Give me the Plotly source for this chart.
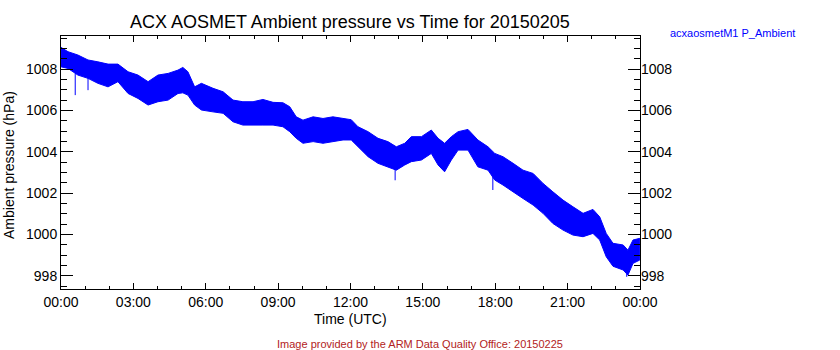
import plotly.graph_objects as go

# ---- data (hours UTC, hPa) ----
time_h = [0.00, 0.29, 0.70, 1.12, 1.53, 1.95, 2.36, 2.78, 3.19, 3.61, 4.02, 4.44, 4.85, 5.05,
          5.26, 5.54, 5.82, 6.30, 6.72, 7.13, 7.54, 7.96, 8.37, 8.79, 9.20, 9.48, 9.75, 10.03,
          10.45, 10.86, 11.27, 11.69, 12.03, 12.31, 12.73, 13.14, 13.55, 13.90, 14.25, 14.52,
          14.94, 15.35, 15.63, 15.90, 16.18, 16.46, 16.87, 17.28, 17.70, 17.98, 18.32, 18.74,
          19.15, 19.57, 19.98, 20.39, 20.81, 21.22, 21.64, 22.05, 22.33, 22.60, 22.88, 23.30,
          23.50, 23.71, 23.99]
p_upper = [1009.05, 1008.84, 1008.68, 1008.44, 1008.35, 1008.24, 1008.24, 1007.87, 1007.71,
           1007.39, 1007.71, 1007.79, 1007.95, 1008.08, 1007.87, 1007.14, 1007.31, 1007.07,
           1006.90, 1006.50, 1006.42, 1006.42, 1006.53, 1006.39, 1006.37, 1006.18, 1005.69,
           1005.53, 1005.69, 1005.61, 1005.69, 1005.61, 1005.55, 1005.21, 1004.97, 1004.65,
           1004.49, 1004.24, 1004.41, 1004.73, 1004.73, 1005.05, 1004.65, 1004.41, 1004.73,
           1004.97, 1005.08, 1004.57, 1004.24, 1003.92, 1003.76, 1003.44, 1003.11, 1002.95,
           1002.47, 1002.06, 1001.66, 1001.34, 1001.02, 1001.21, 1000.85, 1000.05, 999.57,
           999.49, 999.24, 999.73, 999.81]
p_lower = [1008.11, 1008.03, 1007.71, 1007.55, 1007.31, 1007.14, 1007.39, 1006.82, 1006.58,
           1006.26, 1006.42, 1006.50, 1006.82, 1006.85, 1006.74, 1006.26, 1006.02, 1005.93,
           1005.86, 1005.45, 1005.29, 1005.29, 1005.29, 1005.29, 1005.21, 1004.97, 1004.65,
           1004.41, 1004.49, 1004.41, 1004.49, 1004.57, 1004.57, 1004.24, 1003.76, 1003.44,
           1003.27, 1003.11, 1003.36, 1003.52, 1003.60, 1003.92, 1003.36, 1003.03, 1003.60,
           1004.08, 1004.08, 1003.27, 1003.11, 1002.63, 1002.39, 1002.07, 1001.74, 1001.42,
           1001.02, 1000.53, 1000.21, 999.97, 999.89, 1000.05, 999.73, 998.92, 998.46,
           998.28, 998.03, 998.60, 998.76]

# isolated downward spikes (time, from, to)
spike_t = [0.59, 1.12, 13.85, 17.90, 23.45]
spike_from = [1007.8, 1007.6, 1003.2, 1002.9, 998.4]
spike_to = [1006.74, 1006.98, 1002.62, 1002.15, 997.95]

x_tickvals = [0, 3, 6, 9, 12, 15, 18, 21, 24]
x_ticktext = ["00:00", "03:00", "06:00", "09:00", "12:00", "15:00", "18:00", "21:00", "00:00"]
y_tickvals = [998, 1000, 1002, 1004, 1006, 1008]

title_text = "ACX AOSMET Ambient pressure vs Time for 20150205"
ylabel = "Ambient pressure (hPa)"
xlabel = "Time (UTC)"
legend_text = "acxaosmetM1 P_Ambient"
credit = "Image provided by the ARM Data Quality Office: 20150225"

# ---- figure ----
BLUE = "#0000ff"
W, H = 840, 350
L, R, T, B = 61, 640, 36, 289
yr = [997.36, 1009.6]

fig = go.Figure()
fig.add_trace(go.Scatter(
    x=time_h + time_h[::-1], y=p_upper + p_lower[::-1],
    fill="toself", fillcolor=BLUE, mode="lines",
    line=dict(color=BLUE, width=1), hoverinfo="skip", showlegend=False))

sx, sy = [], []
for t, a, b in zip(spike_t, spike_from, spike_to):
    sx += [t, t, None]
    sy += [a, b, None]
fig.add_trace(go.Scatter(x=sx, y=sy, mode="lines", line=dict(color=BLUE, width=1),
                         hoverinfo="skip", showlegend=False))
fig.add_trace(go.Scatter(x=[0], y=[1000], yaxis="y2", mode="markers",
                         marker=dict(opacity=0), hoverinfo="skip", showlegend=False))

font = "Liberation Sans, Arial, sans-serif"
axis_common = dict(showgrid=False, zeroline=False, showline=True, linecolor="black",
                   linewidth=1, tickcolor="black", tickwidth=1,
                   tickfont=dict(family=font, size=14, color="black"))

fig.update_layout(
    width=W, height=H,
    margin=dict(l=L, r=W - R, t=T, b=H - B),
    paper_bgcolor="white", plot_bgcolor="white",
    showlegend=False,
    xaxis=dict(range=[0, 24], tickmode="array", tickvals=x_tickvals, ticktext=x_ticktext,
               ticks="inside", ticklen=6, mirror="ticks",
               minor=dict(tickvals=list(range(25)), ticks="inside", ticklen=3,
                          tickcolor="black", tickwidth=1),
               **axis_common),
    yaxis=dict(range=yr, tickmode="array", tickvals=y_tickvals, ticks="inside",
               ticklen=12, mirror="ticks",
               minor=dict(dtick=0.5, tick0=998, ticks="inside", ticklen=6,
                          tickcolor="black", tickwidth=1),
               **axis_common),
    yaxis2=dict(range=yr, overlaying="y", side="right", tickmode="array",
                tickvals=y_tickvals, ticks="", showgrid=False, zeroline=False,
                showline=False, tickfont=dict(family=font, size=14, color="black")),
)

pw = R - L
ph = B - T
def px(xp):
    return (xp - L) / pw
def py(yp):
    return (B - yp) / ph

ann = [
    dict(text=title_text, x=px(350), y=py(22), size=18, color="black", angle=0),
    dict(text=xlabel, x=px(350), y=py(319), size=14, color="black", angle=0),
    dict(text=ylabel, x=px(9), y=py(165), size=14, color="black", angle=-90),
    dict(text=legend_text, x=px(732), y=py(32.5), size=11, color=BLUE, angle=0),
    dict(text=credit, x=px(420), y=py(344), size=11, color="#b22222", angle=0),
]
for a in ann:
    fig.add_annotation(text=a["text"], xref="paper", yref="paper", x=a["x"], y=a["y"],
                       xanchor="center", yanchor="middle", showarrow=False,
                       textangle=a["angle"],
                       font=dict(family=font, size=a["size"], color=a["color"]))

fig.write_html("out.html")
